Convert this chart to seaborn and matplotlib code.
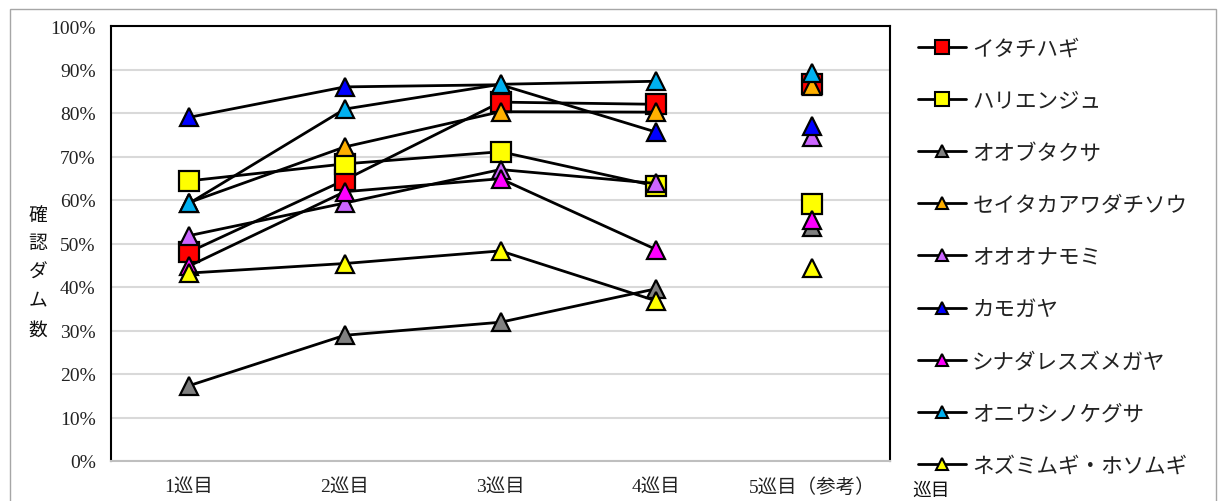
import matplotlib
matplotlib.use("Agg")
import matplotlib.pyplot as plt
from matplotlib.lines import Line2D
from matplotlib.patches import Rectangle
import seaborn as sns
import pandas as pd

# Survey rounds (5th round is reference only, plotted without connecting line)
rounds = ["1巡目", "2巡目", "3巡目", "4巡目", "5巡目（参考）"]

# Share of dams where each species was confirmed (%)
itachihagi = [48.0, 64.6, 82.5, 82.0, 86.6]
harienju = [64.4, 68.3, 71.1, 63.2, 59.1]
oobutakusa = [17.3, 28.9, 31.9, 39.6, 53.8]
seitakaawadachisou = [59.4, 72.2, 80.3, 80.2, 86.2]
oookanamomi = [51.8, 59.3, 67.0, 63.8, 74.5]
kamogaya = [79.0, 86.0, 86.5, 75.6, 76.9]
shinadaresuzumegaya = [44.8, 61.9, 64.9, 48.6, 55.3]
oniushinokegusa = [59.2, 80.9, 86.6, 87.3, 89.1]
nezumimugi = [43.2, 45.4, 48.3, 36.8, 44.4]

species = ["イタチハギ", "ハリエンジュ", "オオブタクサ", "セイタカアワダチソウ",
           "オオオナモミ", "カモガヤ", "シナダレスズメガヤ", "オニウシノケグサ",
           "ネズミムギ・ホソムギ"]
values = [itachihagi, harienju, oobutakusa, seitakaawadachisou, oookanamomi,
          kamogaya, shinadaresuzumegaya, oniushinokegusa, nezumimugi]
colors = ["#ff0000", "#ffff00", "#808080", "#ffb000", "#cc66ff",
          "#0000ff", "#ff00ff", "#00b0f0", "#ffff00"]
markers = ["s", "s", "^", "^", "^", "^", "^", "^", "^"]

sns.set_theme(style="white")
plt.rcParams["font.family"] = ["Noto Sans CJK JP", "DejaVu Sans"]
mixed = ["Liberation Serif", "Noto Sans CJK JP"]

W, H = 1218, 502
fig = plt.figure(figsize=(W / 100, H / 100), dpi=100)
ax = fig.add_axes([111 / W, 40 / H, 779 / W, 435 / H])

for i, (name, vals, col, mk) in enumerate(zip(species, values, colors, markers)):
    df = pd.DataFrame({"round": range(len(rounds)), "pct": vals})
    ms = 14 if mk == "s" else 13
    line_part = df.iloc[:4]
    sns.lineplot(data=line_part, x="round", y="pct", ax=ax, color="black",
                 linewidth=2, marker=mk, markersize=ms, markerfacecolor=col,
                 markeredgecolor="black", markeredgewidth=1.6, zorder=3 + i,
                 legend=False)
    ref = df.iloc[4:]
    ax.plot(ref["round"], ref["pct"], linestyle="none", marker=mk, markersize=ms,
            markerfacecolor=col, markeredgecolor="black", markeredgewidth=1.6,
            zorder=3 + i)

ax.set_xlim(-0.5, len(rounds) - 0.5)
ax.set_ylim(0, 100)
ax.set_xlabel("")
ax.set_ylabel("")

ax.set_yticks(range(0, 101, 10))
ax.set_yticklabels([f"{v}%" for v in range(0, 101, 10)], family=mixed,
                   fontsize=14)
ax.set_xticks(range(len(rounds)))
ax.set_xticklabels(rounds, family=mixed, fontsize=14)
ax.tick_params(axis="y", length=0, pad=11, colors="#222222")
ax.tick_params(axis="x", length=0, pad=12, colors="#222222")

ax.yaxis.grid(True, color="#d9d9d9", linewidth=1.5)
ax.set_axisbelow(True)
for side in ["left", "top", "right"]:
    ax.spines[side].set_color("black")
    ax.spines[side].set_linewidth(1.5)
ax.spines["bottom"].set_color("#bfbfbf")
ax.spines["bottom"].set_linewidth(1.5)

# Vertical axis title, one character per row
ylabel_chars = ["確", "認", "ダ", "ム", "数"]
for k, ch in enumerate(ylabel_chars):
    fig.text(38 / W, 1 - (215 + 28.7 * k) / H, ch, ha="center", va="center",
             fontsize=13.5, color="#111111")

fig.text(912 / W, 1 - 490 / H, "巡目", ha="left", va="center", fontsize=13.5,
         color="#111111")

handles = [Line2D([0], [0], color="black", linewidth=2, marker=mk,
                  markersize=9.5 if mk == "s" else 9, markerfacecolor=col,
                  markeredgecolor="black", markeredgewidth=1.5)
           for mk, col in zip(markers, colors)]
fig.legend(handles, species, loc="upper left",
           bbox_to_anchor=(899 / W, 1 - 19 / H), frameon=False,
           handlelength=2.2, handletextpad=0.3, labelspacing=1.40,
           fontsize=15.5, labelcolor="#222222")

fig.patches.append(Rectangle((10 / W, -0.05), (1216 - 10) / W, 1.05 - 10 / H,
                             transform=fig.transFigure, fill=False,
                             edgecolor="#a6a6a6", linewidth=1))

fig.savefig("out.png", dpi=100, facecolor="white")
